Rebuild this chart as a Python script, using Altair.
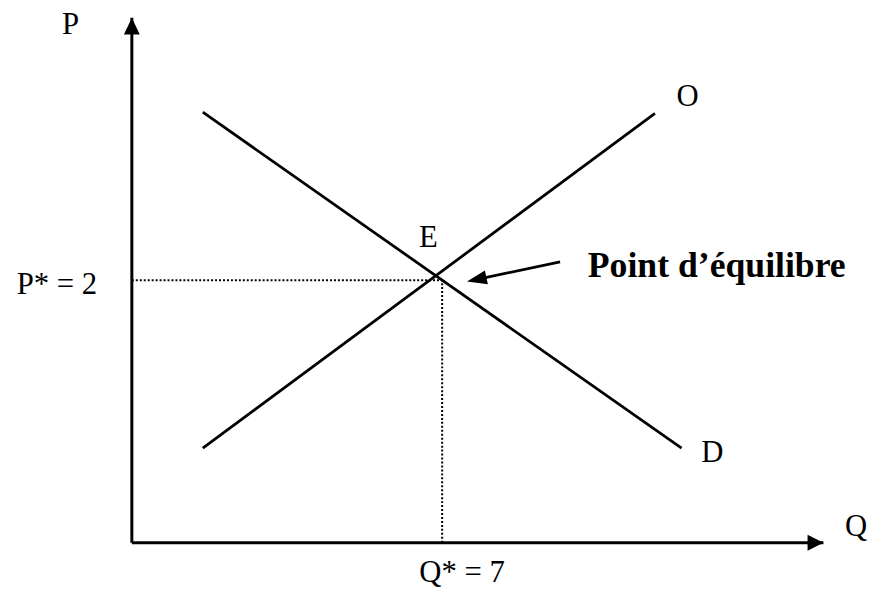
import altair as alt
import pandas as pd

# ---- values ----
Q_STAR = 7          # equilibrium quantity
P_STAR = 2          # equilibrium price
Q_MAX = 15.6        # end of the Q axis (arrow tip)
P_MAX = 4.0         # end of the P axis (arrow tip)

demand_q = [1.6, 12.4]
demand_p = [3.28, 0.72]
supply_q = [1.6, 11.8]
supply_p = [0.72, 3.27]

curve_names = ["D", "O"]
axis_names = ["P", "Q"]
eq_label = "E"
p_star_label = "P* = 2"
q_star_label = "Q* = 7"
note_text = "Point d’équilibre"

# annotation arrow (data units), separate from data
ARROW_FROM = (9.66, 2.14)
ARROW_TO = (7.56, 1.99)

FONT = "Liberation Serif"
W, H = 698, 530

xs = alt.Scale(domain=[0, Q_MAX], nice=False, zero=False)
ys = alt.Scale(domain=[0, P_MAX], nice=False, zero=False)


def X(f="q"):
    return alt.X(f"{f}:Q", scale=xs, axis=None)


def Y(f="p"):
    return alt.Y(f"{f}:Q", scale=ys, axis=None)


# axes
axes_df = pd.DataFrame({"q": [0, 0], "p": [0, 0], "q2": [Q_MAX, 0], "p2": [0, P_MAX]})
axes = alt.Chart(axes_df).mark_rule(color="black", strokeWidth=3).encode(
    x=X(), y=Y(), x2="q2:Q", y2="p2:Q"
)

head_up = alt.Chart(pd.DataFrame({"q": [0], "p": [P_MAX]})).mark_point(
    shape="M0,0L0.47,1L-0.47,1Z", size=1156, filled=True, color="black", opacity=1
).encode(x=X(), y=Y())
head_right = alt.Chart(pd.DataFrame({"q": [Q_MAX], "p": [0]})).mark_point(
    shape="M0,0L-1,-0.5L-1,0.5Z", size=1024, filled=True, color="black", opacity=1
).encode(x=X(), y=Y())

# demand and supply
curves = pd.DataFrame({
    "q": demand_q + supply_q,
    "p": demand_p + supply_p,
    "curve": [curve_names[0]] * 2 + [curve_names[1]] * 2,
})
lines = alt.Chart(curves).mark_line(color="black", strokeWidth=2.8).encode(
    x=X(), y=Y(), detail="curve:N"
)

# dotted guides
guides_df = pd.DataFrame({
    "q": [0, Q_STAR], "p": [P_STAR, 0], "q2": [Q_STAR, Q_STAR], "p2": [P_STAR, P_STAR]
})
guides = alt.Chart(guides_df).mark_rule(color="black", strokeWidth=2, strokeDash=[2, 2]).encode(
    x=X(), y=Y(), x2="q2:Q", y2="p2:Q"
)


def label(text, q, p, dx, dy, align="center", size=31, weight="normal"):
    return alt.Chart(pd.DataFrame({"q": [q], "p": [p], "t": [text]})).mark_text(
        font=FONT, fontSize=size, fontWeight=weight, align=align,
        baseline="alphabetic", dx=dx, dy=dy, color="black"
    ).encode(x=X(), y=Y(), text="t:N")


labels = [
    label(axis_names[0], 0, P_MAX, -62, 17),
    label(axis_names[1], Q_MAX, 0, 33, -7),
    label(curve_names[1], supply_q[1], supply_p[1], 33, -8),
    label(curve_names[0], demand_q[1], demand_p[1], 31, 14),
    label(eq_label, Q_STAR, P_STAR, -14, -33),
    label(p_star_label, 0, P_STAR, -35, 14, align="right"),
    label(q_star_label, Q_STAR, 0, 20, 40),
    label(note_text, Q_STAR, P_STAR, 147, -3, align="left", size=36, weight="bold"),
]

# annotation arrow
line_end = (ARROW_TO[0] + (ARROW_FROM[0] - ARROW_TO[0]) * 0.12,
            ARROW_TO[1] + (ARROW_FROM[1] - ARROW_TO[1]) * 0.12)
arrow_line = alt.Chart(pd.DataFrame({
    "q": [ARROW_FROM[0]], "p": [ARROW_FROM[1]], "q2": [line_end[0]], "p2": [line_end[1]]
})).mark_rule(color="black", strokeWidth=2.8).encode(x=X(), y=Y(), x2="q2:Q", y2="p2:Q")
arrow_head = alt.Chart(pd.DataFrame({"q": [ARROW_TO[0]], "p": [ARROW_TO[1]]})).mark_point(
    shape="M0,0L-1,-0.36L-1,0.36Z", size=1600, filled=True, color="black", opacity=1, angle=168
).encode(x=X(), y=Y())

chart = alt.layer(
    axes, head_up, head_right, guides, lines, arrow_line, arrow_head, *labels
).properties(
    width=W, height=H,
    padding={"left": 125, "top": 7, "right": 45, "bottom": 47},
    autosize=alt.AutoSizeParams(type="none"),
    background="white",
).configure_view(strokeWidth=0)

chart.save("out.html", embed_options={"renderer": "svg", "actions": False})
